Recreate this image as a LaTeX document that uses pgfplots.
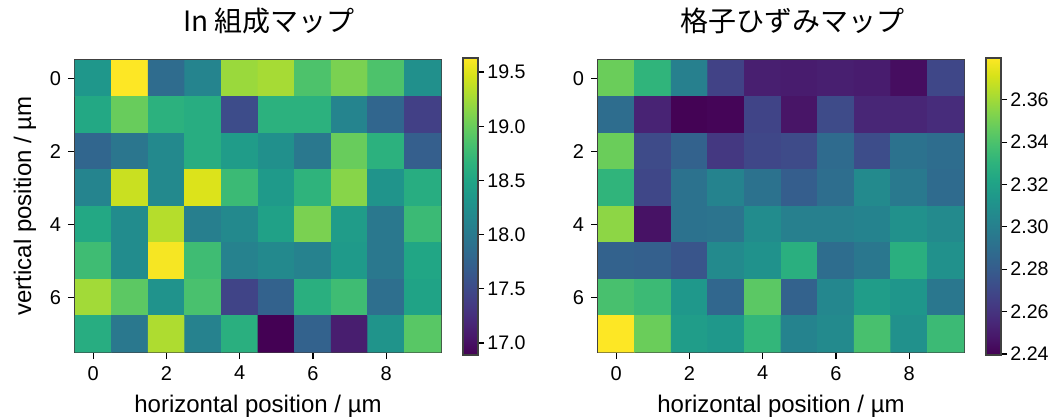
\documentclass[border=0pt]{standalone}
\usepackage{fontspec}
\setmainfont{Liberation Sans}
\newfontfamily\cjk{Noto Sans CJK JP}
\usepackage{pgfplots}
\usepackage{pgfplotstable}
\pgfplotsset{compat=1.18}

% In composition map (x y value), rows y=0..7
\pgfplotstableread{
x y c
0 0 18.34
1 0 19.63
2 0 17.85
3 0 18.12
4 0 19.22
5 0 19.27
6 0 18.86
7 0 19.08
8 0 18.86
9 0 18.26
0 1 18.53
1 1 19.00
2 1 18.64
3 1 18.59
4 1 17.52
5 1 18.64
6 1 18.64
7 1 18.12
8 1 17.79
9 1 17.41
0 2 17.79
1 2 17.96
2 2 18.18
3 2 18.59
4 2 18.40
5 2 18.26
6 2 17.99
7 2 19.00
8 2 18.64
9 2 17.71
0 3 18.12
1 3 19.41
2 3 18.18
3 3 19.49
4 3 18.75
5 3 18.37
6 3 18.67
7 3 19.14
8 3 18.31
9 3 18.59
0 4 18.53
1 4 18.21
2 4 19.33
3 4 18.07
4 4 18.18
5 4 18.45
6 4 19.08
7 4 18.40
8 4 17.99
9 4 18.75
0 5 18.78
1 5 18.21
2 5 19.60
3 5 18.78
4 5 18.10
5 5 18.18
6 5 18.10
7 5 18.37
8 5 17.99
9 5 18.51
0 6 19.25
1 6 18.94
2 6 18.29
3 6 18.84
4 6 17.44
5 6 17.74
6 6 18.62
7 6 18.78
8 6 17.88
9 6 18.48
0 7 18.59
1 7 17.99
2 7 19.30
3 7 18.10
4 7 18.62
5 7 16.89
6 7 17.74
7 7 17.11
8 7 18.31
9 7 18.92
}\incomp

% lattice strain map
\pgfplotstableread{
x y c
0 0 2.348
1 0 2.331
2 0 2.300
3 0 2.267
4 0 2.251
5 0 2.250
6 0 2.251
7 0 2.250
8 0 2.244
9 0 2.269
0 1 2.289
1 1 2.253
2 1 2.240
3 1 2.241
4 1 2.268
5 1 2.247
6 1 2.271
7 1 2.254
8 1 2.254
9 1 2.257
0 2 2.348
1 2 2.271
2 2 2.283
3 2 2.262
4 2 2.269
5 2 2.271
6 2 2.288
7 2 2.272
8 2 2.292
9 2 2.289
0 3 2.331
1 3 2.269
2 3 2.292
3 3 2.302
4 3 2.292
5 3 2.281
6 3 2.290
7 3 2.306
8 3 2.296
9 3 2.288
0 4 2.356
1 4 2.246
2 4 2.292
3 4 2.293
4 4 2.307
5 4 2.300
6 4 2.300
7 4 2.302
8 4 2.310
9 4 2.306
0 5 2.283
1 5 2.282
2 5 2.276
3 5 2.306
4 5 2.311
5 5 2.328
6 5 2.289
7 5 2.295
8 5 2.328
9 5 2.310
0 6 2.339
1 6 2.335
2 6 2.314
3 6 2.286
4 6 2.344
5 6 2.283
6 6 2.304
7 6 2.317
8 6 2.313
9 6 2.295
0 7 2.380
1 7 2.348
2 7 2.317
3 7 2.314
4 7 2.332
5 7 2.302
6 7 2.306
7 7 2.339
8 7 2.310
9 7 2.335
}\strain

\begin{document}
\begin{tikzpicture}
\useasboundingbox (-37.5pt,-32.5pt) rectangle (488.5pt,176pt);
\pgfplotsset{
  heat/.style={
    width=183pt, height=146pt, scale only axis,
    xmin=-0.5, xmax=9.5, ymin=-0.5, ymax=7.5, y dir=reverse,
    xtick={0,2,4,6,8}, ytick={0,2,4,6},
    tick pos=left, tick align=outside, major tick length=3.5pt,
    tick style={black, line width=0.6pt},
    axis line style={black!75, line width=0.6pt},
    ticklabel style={font=\fontsize{10}{12}\selectfont},
    /pgf/number format/assume math mode=true,
    colormap/viridis,
    xlabel={horizontal position / µm},
    xlabel style={at={(axis description cs:0.5,0)}, anchor=base, yshift=-30pt, font=\fontsize{12}{14}\selectfont},
    title style={at={(axis description cs:0.5,1)}, anchor=base, yshift=8.5pt, xshift=5.5pt, font=\cjk\fontsize{14}{16}\selectfont},
    colorbar,
    colorbar shift/.style={xshift=11pt, yshift=1pt},
  },
  cbar/.style={
    at={(parent axis.north east)}, anchor=north west,
    width=7.5pt, height=148.5pt, scale only axis,
    tick align=outside, major tick length=3pt,
    ytick pos=right, minor tick num=0,
    tick style={black, line width=0.6pt},
    axis line style={black!75, line width=0.6pt},
    yticklabel pos=right,
    yticklabel style={font=\fontsize{9.8}{12}\selectfont, inner sep=1.5pt},
    /pgf/number format/assume math mode=true,
  }
}
\begin{axis}[heat,
  at={(0pt,0pt)}, anchor=south west,
  title={In 組成マップ},
  ylabel={vertical position / µm},
  ylabel style={at={(axis description cs:-0.137,0.5)}, anchor=center, rotate=0, font=\fontsize{12}{14}\selectfont},
  point meta min=16.89, point meta max=19.63,
  colorbar style={cbar,
    ytick={17,17.5,18,18.5,19,19.5},
    yticklabel style={/pgf/number format/.cd, fixed, fixed zerofill, precision=1}},
]
\addplot[matrix plot*, mesh/cols=10, mesh/rows=8, point meta=explicit] table[x=x, y=y, meta=c] {\incomp};
\end{axis}
\begin{axis}[heat,
  at={(261.5pt,0pt)}, anchor=south west,
  title={格子ひずみマップ},
  point meta min=2.2395, point meta max=2.3797,
  colorbar style={cbar,
    ytick={2.24,2.26,2.28,2.30,2.32,2.34,2.36},
    yticklabel style={/pgf/number format/.cd, fixed, fixed zerofill, precision=2}},
]
\addplot[matrix plot*, mesh/cols=10, mesh/rows=8, point meta=explicit] table[x=x, y=y, meta=c] {\strain};
\end{axis}
\end{tikzpicture}
\end{document}
